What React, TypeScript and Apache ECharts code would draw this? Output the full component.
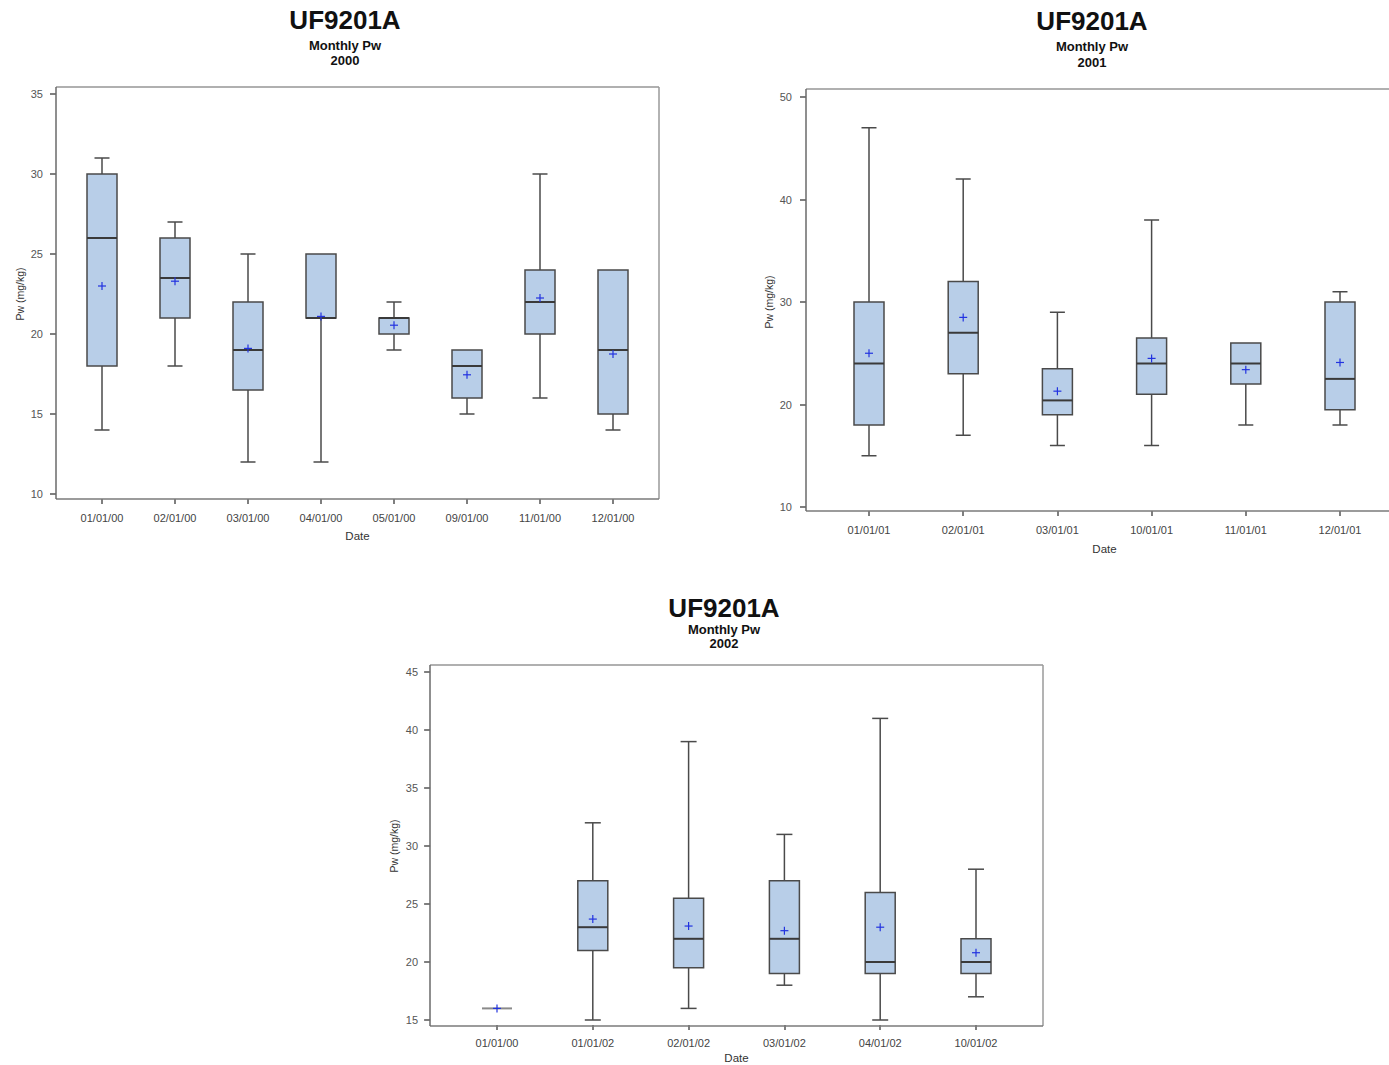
import React, { useEffect, useRef } from "react";
import * as echarts from "echarts";

// ---------- Data ----------
const cats2000 = ["01/01/00", "02/01/00", "03/01/00", "04/01/00", "05/01/00", "09/01/00", "11/01/00", "12/01/00"];
const min2000 = [14, 18, 12, 12, 19, 15, 16, 14];
const q1_2000 = [18, 21, 16.5, 21, 20, 16, 20, 15];
const med2000 = [26, 23.5, 19, 21, 21, 18, 22, 19];
const q3_2000 = [30, 26, 22, 25, 21, 19, 24, 24];
const max2000 = [31, 27, 25, 25, 22, 19, 30, 24];
const mean2000 = [23, 23.3, 19.1, 21.1, 20.55, 17.45, 22.25, 18.75];

const cats2001 = ["01/01/01", "02/01/01", "03/01/01", "10/01/01", "11/01/01", "12/01/01"];
const min2001 = [15, 17, 16, 16, 18, 18];
const q1_2001 = [18, 23, 19, 21, 22, 19.5];
const med2001 = [24, 27, 20.4, 24, 24, 22.5];
const q3_2001 = [30, 32, 23.5, 26.5, 26, 30];
const max2001 = [47, 42, 29, 38, 26, 31];
const mean2001 = [25, 28.5, 21.3, 24.5, 23.4, 24.1];

const cats2002 = ["01/01/00", "01/01/02", "02/01/02", "03/01/02", "04/01/02", "10/01/02"];
const min2002 = [16, 15, 16, 18, 15, 17];
const q1_2002 = [16, 21, 19.5, 19, 19, 19];
const med2002 = [16, 23, 22, 22, 20, 20];
const q3_2002 = [16, 27, 25.5, 27, 26, 22];
const max2002 = [16, 32, 39, 31, 41, 28];
const mean2002 = [16, 23.7, 23.1, 22.7, 23, 20.8];

const yTicks2000 = { min: 10, max: 35, interval: 5 };
const yTicks2001 = { min: 10, max: 50, interval: 10 };
const yTicks2002 = { min: 15, max: 45, interval: 5 };

const FONT = "'Liberation Sans', Arial, sans-serif";

function build(cats: string[], mn: number[], q1: number[], md: number[], q3: number[], mx: number[], mean: number[]) {
  return cats.map((_, i) => [i, mn[i], q1[i], md[i], q3[i], mx[i], mean[i]]);
}

function makeRender(boxW: number, capW: number) {
  return (params: any, api: any) => {
    const i = api.value(0);
    const mn = api.value(1), q1 = api.value(2), md = api.value(3), q3 = api.value(4), mx = api.value(5), mean = api.value(6);
    const P = (v: number) => api.coord([i, v]);
    const cx = P(md)[0];
    const yMin = P(mn)[1], yQ1 = P(q1)[1], yMed = P(md)[1], yQ3 = P(q3)[1], yMax = P(mx)[1], yMean = P(mean)[1];
    const stroke = "#4a4a4a";
    const line = (x1: number, y1: number, x2: number, y2: number, color: string, lw: number) => ({
      type: "line",
      shape: { x1, y1, x2, y2 },
      style: { stroke: color, lineWidth: lw },
    });
    const ch: any[] = [];
    if (mx > q3) {
      ch.push(line(cx, yMax, cx, yQ3, stroke, 1.5));
      ch.push(line(cx - capW / 2, yMax, cx + capW / 2, yMax, stroke, 1.5));
    }
    if (mn < q1) {
      ch.push(line(cx, yMin, cx, yQ1, stroke, 1.5));
      ch.push(line(cx - capW / 2, yMin, cx + capW / 2, yMin, stroke, 1.5));
    }
    if (q3 > q1) {
      ch.push({
        type: "rect",
        shape: { x: cx - boxW / 2, y: yQ3, width: boxW, height: yQ1 - yQ3 },
        style: { fill: "#b8cee8", stroke, lineWidth: 1.5 },
      });
      ch.push(line(cx - boxW / 2, yMed, cx + boxW / 2, yMed, "#3a3a3a", 2));
    } else {
      ch.push(line(cx - boxW / 2, yQ1, cx + boxW / 2, yQ1, "#8a8a8a", 2));
    }
    ch.push(line(cx - 4, yMean, cx + 4, yMean, "#2233e0", 1.2));
    ch.push(line(cx, yMean - 4, cx, yMean + 4, "#2233e0", 1.2));
    return { type: "group", children: ch };
  };
}

function frame(L: number, T: number, R: number, B: number) {
  const mk = (x1: number, y1: number, x2: number, y2: number, c: string, w: number) => ({
    type: "line",
    shape: { x1, y1, x2, y2 },
    style: { stroke: c, lineWidth: w },
    silent: true,
    z: 10,
  });
  return [
    mk(L, T, R, T, "#b0b0b0", 2),
    mk(R, T, R, B, "#9a9a9a", 1.5),
    mk(L, B, R, B, "#7a7a7a", 1.5),
    mk(L, T, L, B, "#6a6a6a", 1.5),
  ];
}

function titleBlock(cx: number, y1: number, y2: number, y3: number, year: string) {
  const t = (y: number, text: string, size: number) => ({
    type: "text",
    x: cx,
    y,
    style: {
      text,
      align: "center",
      verticalAlign: "middle",
      font: `bold ${size}px ${FONT}`,
      fill: "#111",
    },
  });
  return [t(y1, "UF9201A", 26), t(y2, "Monthly Pw", 13), t(y3, year, 13)];
}

function xAxisCfg(grid: number, cats: string[], offset: number, nameGap: number, margin: number) {
  return {
    type: "category",
    gridIndex: grid,
    data: cats,
    offset,
    boundaryGap: true,
    axisLine: { show: false },
    axisTick: { show: true, alignWithLabel: true, length: 5, lineStyle: { color: "#555", width: 1.5 } },
    axisLabel: { color: "#444", fontSize: 11, fontFamily: FONT, margin, interval: 0 },
    splitLine: { show: false },
    name: "Date",
    nameLocation: "middle",
    nameGap,
    nameTextStyle: { color: "#333", fontSize: 11.5, fontFamily: FONT },
  };
}

function yAxisCfg(grid: number, t: { min: number; max: number; interval: number }, offset: number, nameGap: number, margin: number) {
  return {
    type: "value",
    gridIndex: grid,
    min: t.min,
    max: t.max,
    interval: t.interval,
    offset,
    axisLine: { show: false },
    axisTick: { show: true, length: 6, lineStyle: { color: "#555", width: 1.5 } },
    axisLabel: { color: "#555", fontSize: 11, fontFamily: FONT, margin },
    splitLine: { show: false },
    name: "Pw (mg/kg)",
    nameLocation: "middle",
    nameGap,
    nameTextStyle: { color: "#333", fontSize: 10.5, fontFamily: FONT },
  };
}

export default function App() {
  const ref = useRef<HTMLDivElement>(null);
  useEffect(() => {
    if (!ref.current) return;
    const chart = echarts.init(ref.current, undefined, { renderer: "svg" });
    const option: any = {
      animation: false,
      backgroundColor: "#ffffff",
      grid: [
        { left: 65.5, top: 94, width: 584, height: 400 },
        { left: 821.9, top: 97, width: 565.2, height: 410 },
        { left: 449.1, top: 672, width: 574.8, height: 349 },
      ],
      xAxis: [
        xAxisCfg(0, cats2000, 5, 31, 13),
        xAxisCfg(1, cats2001, 4, 32, 13),
        xAxisCfg(2, cats2002, 5, 27, 12),
      ],
      yAxis: [
        yAxisCfg(0, yTicks2000, 9.5, 31, 13),
        yAxisCfg(1, yTicks2001, 15.9, 32, 14),
        yAxisCfg(2, yTicks2002, 19, 31, 12),
      ],
      series: [
        {
          type: "custom",
          xAxisIndex: 0,
          yAxisIndex: 0,
          clip: false,
          renderItem: makeRender(30, 15),
          encode: { x: 0, y: [1, 2, 3, 4, 5, 6] },
          data: build(cats2000, min2000, q1_2000, med2000, q3_2000, max2000, mean2000),
        },
        {
          type: "custom",
          xAxisIndex: 1,
          yAxisIndex: 1,
          clip: false,
          renderItem: makeRender(30, 15),
          encode: { x: 0, y: [1, 2, 3, 4, 5, 6] },
          data: build(cats2001, min2001, q1_2001, med2001, q3_2001, max2001, mean2001),
        },
        {
          type: "custom",
          xAxisIndex: 2,
          yAxisIndex: 2,
          clip: false,
          renderItem: makeRender(30, 16),
          encode: { x: 0, y: [1, 2, 3, 4, 5, 6] },
          data: build(cats2002, min2002, q1_2002, med2002, q3_2002, max2002, mean2002),
        },
      ],
      graphic: [
        ...frame(56, 87, 659, 499),
        ...frame(806, 89, 1403, 511),
        ...frame(430, 665, 1043, 1026),
        ...titleBlock(345, 20, 45, 60, "2000"),
        ...titleBlock(1092, 21, 46, 62, "2001"),
        ...titleBlock(724, 608, 629, 643, "2002"),
      ],
    };
    chart.setOption(option);
    return () => chart.dispose();
  }, []);
  return (
    <div
      ref={ref}
      style={{ position: "absolute", left: 0, top: 0, width: 1389, height: 1065, background: "#fff" }}
    />
  );
}
